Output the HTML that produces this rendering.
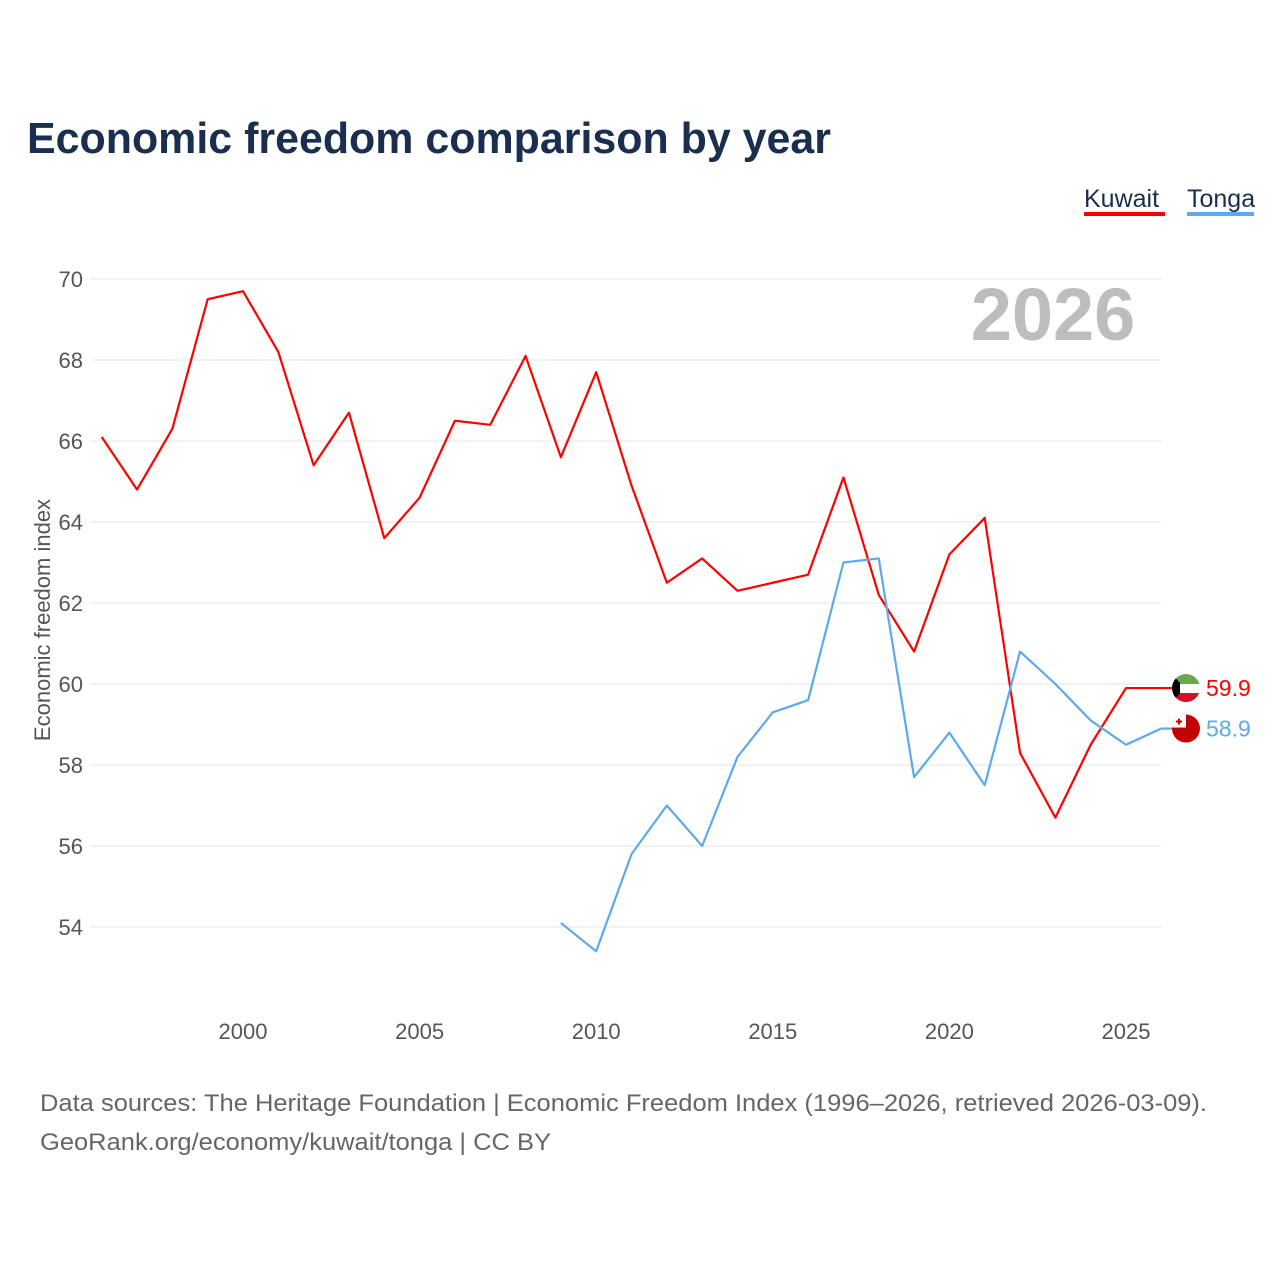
<!DOCTYPE html>
<html><head><meta charset="utf-8">
<style>
body{margin:0;background:#fff;font-family:"Liberation Sans",sans-serif;}
#wrap{position:relative;width:1280px;height:1280px;overflow:hidden;}
</style></head>
<body>
<div id="wrap">
<svg id="chart" width="1280" height="1280">
<text x="27" y="153" font-size="44" font-weight="bold" fill="#1a2e4f" textLength="804" lengthAdjust="spacingAndGlyphs">Economic freedom comparison by year</text>
<g>
<text x="1084" y="207" font-size="25" fill="#1a2e4f">Kuwait</text>
<rect x="1084" y="212" width="81" height="4" fill="#ff0000"/>
<text x="1187" y="207" font-size="25" fill="#1a2e4f">Tonga</text>
<rect x="1187" y="212" width="67" height="4" fill="#5ea8ec"/>
</g>
<text x="1053" y="340" font-size="74" font-weight="bold" fill="#bdbdbd" text-anchor="middle">2026</text>
<text transform="translate(50,620) rotate(-90)" font-size="22" fill="#555" text-anchor="middle">Economic freedom index</text>
<g id="grid"></g><g id="lines"></g><g id="ends"></g>
<text x="40" y="1111" font-size="24" fill="#666" textLength="1167" lengthAdjust="spacingAndGlyphs">Data sources: The Heritage Foundation | Economic Freedom Index (1996–2026, retrieved 2026-03-09).</text>
<text x="40" y="1150" font-size="24" fill="#666" textLength="511" lengthAdjust="spacingAndGlyphs">GeoRank.org/economy/kuwait/tonga | CC BY</text>
</svg>
</div>
<script>
const kuwaitYears=[1996,1997,1998,1999,2000,2001,2002,2003,2004,2005,2006,2007,2008,2009,2010,2011,2012,2013,2014,2015,2016,2017,2018,2019,2020,2021,2022,2023,2024,2025,2026];
const kuwaitValues=[66.1,64.8,66.3,69.5,69.7,68.2,65.4,66.7,63.6,64.6,66.5,66.4,68.1,65.6,67.7,64.9,62.5,63.1,62.3,62.5,62.7,65.1,62.2,60.8,63.2,64.1,58.3,56.7,58.5,59.9,59.9];
const tongaYears=[2009,2010,2011,2012,2013,2014,2015,2016,2017,2018,2019,2020,2021,2022,2023,2024,2025,2026];
const tongaValues=[54.1,53.4,55.8,57.0,56.0,58.2,59.3,59.6,63.0,63.1,57.7,58.8,57.5,60.8,60.0,59.1,58.5,58.9];
const yTicks=[54,56,58,60,62,64,66,68,70];
const xTicks=[2000,2005,2010,2015,2020,2025];
const NS="http://www.w3.org/2000/svg";
function xs(y){return 243+(y-2000)*35.32;}
function ys(v){return 279+(70-v)*40.5;}
function mk(tag,attrs,parent){const e=document.createElementNS(NS,tag);for(const k in attrs)e.setAttribute(k,attrs[k]);parent.appendChild(e);return e;}
const grid=document.getElementById('grid');
yTicks.forEach(t=>{
  const l=mk('line',{x1:91,x2:1161,y1:ys(t),y2:ys(t),stroke:'#e6e6e6','stroke-width':1},grid);
  
  
  const tx=mk('text',{x:83,y:ys(t)+8,'font-size':22,fill:'#555','text-anchor':'end'},grid);
  tx.textContent=t;
  
  
});
xTicks.forEach(t=>{
  const tx=mk('text',{x:xs(t),y:1039,'font-size':22,fill:'#555','text-anchor':'middle'},grid);
  tx.textContent=t;
  
  
});
const lines=document.getElementById('lines');
function series(years,vals,color,name){
  const p=mk('polyline',{points:years.map((y,i)=>xs(y)+','+ys(vals[i])).join(' '),fill:'none',stroke:color,'stroke-width':2.2,'stroke-linejoin':'round'},lines);
  
  
}
series(kuwaitYears,kuwaitValues,'#ff0000','kuwait-line');
series(tongaYears,tongaValues,'#5ea8ec','tonga-line');
const ends=document.getElementById('ends');
function endMark(years,vals,color,name,flag){
  const v=vals[vals.length-1],y=ys(v),x=xs(years[years.length-1]);
  mk('line',{x1:x,x2:1172,y1:y,y2:y,stroke:color,'stroke-width':2.2},ends);
  const g=mk('g',{},ends);
  
  
  const cp=mk('clipPath',{id:'cp'+name},g);mk('circle',{cx:1186,cy:y,r:14},cp);
  const f=mk('g',{'clip-path':'url(#cp'+name+')'},g);
  if(flag==='kw'){
    mk('rect',{x:1172,y:y-14,width:28,height:10,fill:'#6aa84f'},f);
    mk('rect',{x:1172,y:y-4,width:28,height:9,fill:'#fff'},f);
    mk('rect',{x:1172,y:y+5,width:28,height:10,fill:'#ce1126'},f);
    mk('polygon',{points:`1172,${y-14} 1180,${y-5} 1180,${y+5} 1172,${y+14}`,fill:'#000'},f);
  }else{
    mk('rect',{x:1172,y:y-14,width:28,height:28,fill:'#c10000'},f);
    mk('rect',{x:1172,y:y-14,width:14,height:13,fill:'#fff'},f);
    mk('rect',{x:1178,y:y-10,width:2,height:6,fill:'#c10000'},f);
    mk('rect',{x:1176,y:y-8,width:6,height:2,fill:'#c10000'},f);
  }
  const t=mk('text',{x:1206,y:y+8,'font-size':23,fill:color},ends);
  t.textContent=v.toFixed(1);
  
  
}
endMark(kuwaitYears,kuwaitValues,'#ff0000','kuwait','kw');
endMark(tongaYears,tongaValues,'#5ea8ec','tonga','to');
</script>
</body></html>
